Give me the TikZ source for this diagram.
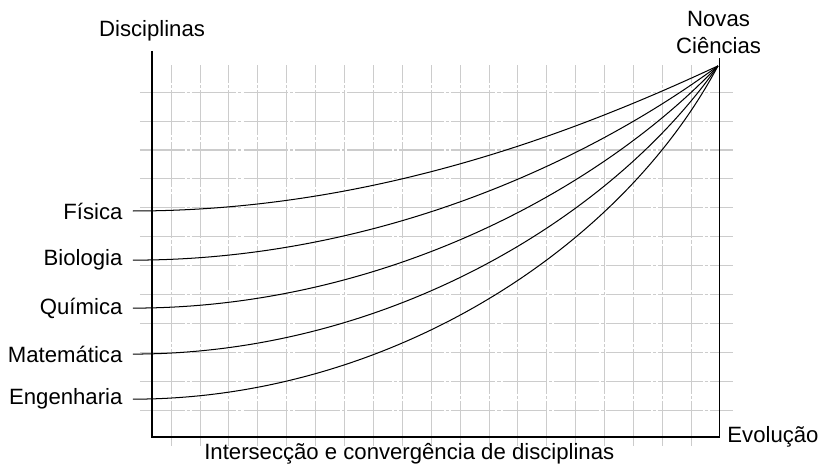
\documentclass[tikz,border=0pt]{standalone}
\usepackage{fontspec}
\setmainfont{Liberation Sans}
\usepackage{tikz}

\begin{document}
\begin{tikzpicture}[x=0.5cm,y=0.5cm,
	font=\fontsize{10.9}{13.3}\selectfont,
	gridline/.style={black!20, line width=0.5pt, dash pattern=on 22pt off 1pt on 1.5pt off 1pt},
	axis/.style={line width=0.6pt},
	curve/.style={line width=0.5pt},
	disc/.style={anchor=east, inner sep=5pt}]
	\useasboundingbox (-5.26,-1.0) rectangle (23.11,15.12);
	% Define the grid
	\foreach \x in {0,...,18} \draw[gridline] (\x+0.66,-0.3) -- (\x+0.66,12.87);
	\foreach \y in {0,...,11} \draw[gridline] (-0.42,\y+0.93) -- (20.1,\y+0.93);
	% Axes
	\coordinate (topo) at (0,13.36);
	\coordinate (origem) at (0,0);
	\coordinate (fim) at (19.62,0);
	\coordinate (direita) at (19.62,13.1);
	\draw[axis] (topo) -- (origem) -- (fim) -- (direita);
	\node (disciplinas) at (0,14.05) {Disciplinas};
	\node[align=center] (novas) at (19.6,14.0) {Novas\\Ciências};
	\node[anchor=west, inner sep=3.9pt] (evolucao) at (fim) {Evolução};
	\node (titulo) at (8.9,-0.58) {Intersecção e convergência de disciplinas};
	% Disciplines
	\coordinate (apex) at (19.58,12.84);
	\node[disc] (fisica) at (-0.66,7.82) {Física};
	\node[disc] (biologia) at (-0.66,6.12) {Biologia};
	\node[disc] (quimica) at (-0.66,4.46) {Química};
	\node[disc] (matematica) at (-0.66,2.87) {Matemática};
	\node[disc] (engenharia) at (-0.66,1.31) {Engenharia};
	% Convergence curves
	\draw[curve] (fisica.east) .. controls +(8.4,0) and +(-4.77,-2.22) .. (apex);
	\draw[curve] (biologia.east) .. controls +(8.5,0) and +(-4.42,-3.26) .. (apex);
	\draw[curve] (quimica.east) .. controls +(8.6,0) and +(-4.08,-4.29) .. (apex);
	\draw[curve] (matematica.east) .. controls +(8.7,0) and +(-3.73,-5.33) .. (apex);
	\draw[curve] (engenharia.east) .. controls +(8.8,0) and +(-3.39,-6.37) .. (apex);
\end{tikzpicture}
\end{document}
